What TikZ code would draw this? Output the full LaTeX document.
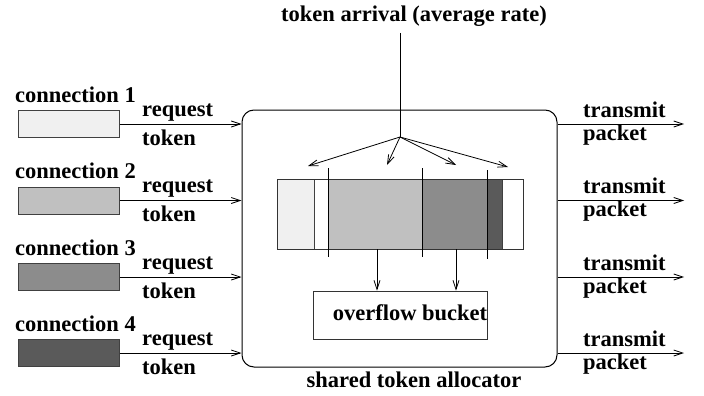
\documentclass[tikz,border=0pt]{standalone}
\usepackage{fontspec}
\setmainfont{Liberation Serif}
\newfontfamily\lblfont{Liberation Serif}[UprightFont={* Bold}]
\usetikzlibrary{arrows.meta}
\definecolor{gA}{HTML}{F0F0F0}
\definecolor{gB}{HTML}{C0C0C0}
\definecolor{gC}{HTML}{8C8C8C}
\definecolor{gD}{HTML}{5A5A5A}
\begin{document}
\begin{tikzpicture}[x=1pt,y=-1pt,
  lbl/.style={font=\lblfont\fontsize{22.5}{26}\selectfont, inner sep=0pt},
  conn/.style={draw=black!75, line width=1pt, minimum width=101pt, minimum height=27pt, inner sep=0pt},
  arr/.style={line width=0.8pt, -{Straight Barb[length=9pt,width=6pt]}},
  plain/.style={line width=0.9pt}]
\useasboundingbox (0,0) rectangle (704,396);
% shared allocator
\node[draw, line width=1pt, rounded corners=12pt, minimum width=315pt, minimum height=257pt, inner sep=0pt] (alloc) at (399.5,238.5) {};
\node[lbl, anchor=base] (shared) at (414,387) {shared token allocator};
% top arrival
\node[lbl, anchor=base] (arrival) at (414,22) {token arrival (average rate)};
\coordinate (top) at (400,33);
\coordinate (fan) at (400,137);
\draw[plain] (top) -- (fan);
\coordinate (t1) at (308,166);
\coordinate (t2) at (387,165);
\coordinate (t3) at (456,165);
\coordinate (t4) at (508,167);
\foreach \t in {t1,t2,t3,t4} \draw[arr] (fan) -- (\t);
% bar
\fill[gA] (277,179) rectangle (314,249);
\fill[gB] (328,179) rectangle (422,249);
\fill[gC] (422,179) rectangle (487,249);
\fill[gD] (487,179) rectangle (502,249);
\draw[black!75, line width=0.8pt] (314,179) -- (314,249);
\draw[black!75, line width=0.8pt] (502,179) -- (502,249);
\node[draw=black!80, line width=0.9pt, minimum width=246pt, minimum height=70pt, inner sep=0pt] (bar) at (400,214) {};
\draw[plain] (328,168) -- (328,257);
\draw[plain] (422,168) -- (422,257);
\draw[plain] (487,170) -- (487,259);
% overflow bucket
\node[draw=black!80, line width=0.9pt, minimum width=174pt, minimum height=48pt, inner sep=0pt] (over) at (400,315) {};
\node[lbl, anchor=base] (overtxt) at (410,320) {overflow bucket};
\coordinate (d1) at (377,249);
\coordinate (d2) at (456,249);
\draw[arr] (d1) -- (d1 |- over.north);
\draw[arr] (d2) -- (d2 |- over.north);
% connections
\foreach \i/\yc/\col in {1/124/gA,2/200.5/gB,3/277/gC,4/353/gD}{
  \node[conn, fill=\col] (c\i) at (68.5,\yc) {};
  \node[lbl, anchor=base west] (cl\i) at (15,\yc-22) {connection \i};
  \node[lbl, anchor=base west] (rq\i) at (142,\yc-8) {request};
  \node[lbl, anchor=base west] (tk\i) at (142,\yc+21) {token};
  \draw[arr] (c\i.east) -- (c\i.east -| alloc.west);
  \coordinate (o\i) at (684,\yc);
  \draw[arr] (alloc.east |- c\i.east) -- (o\i);
  \node[lbl, anchor=base west] (tm\i) at (583,\yc-7) {transmit};
  \node[lbl, anchor=base west] (pk\i) at (583,\yc+16) {packet};
}
\end{tikzpicture}
\end{document}
